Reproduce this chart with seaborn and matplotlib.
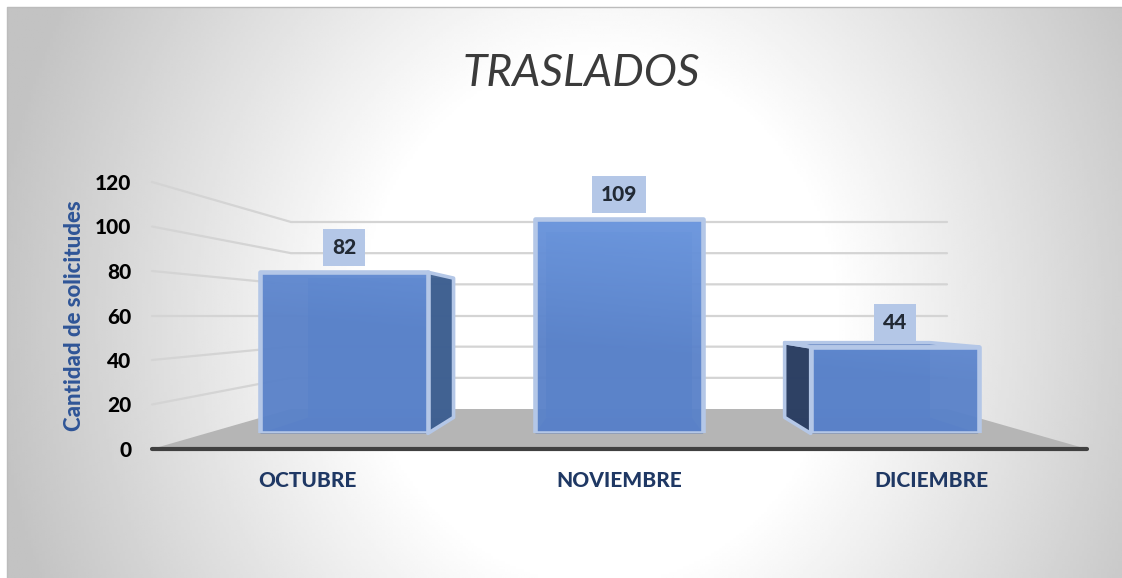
#!/usr/bin/env python3
import numpy as np
import matplotlib
matplotlib.use('Agg')
import matplotlib.pyplot as plt
import seaborn as sns
from matplotlib.colors import LinearSegmentedColormap, to_rgba
from matplotlib.patches import Polygon, Rectangle

meses = ['OCTUBRE', 'NOVIEMBRE', 'DICIEMBRE']
solicitudes = [82, 109, 44]
ticks_y = [0, 20, 40, 60, 80, 100, 120]

W, H = 1122, 578
Y_MAX = 120
ANCHO = 0.61
T_FRENTE = 0.39    # profundidad de la cara frontal de las barras
T_FONDO = 0.79     # profundidad de la cara trasera

BORDE = '#b4c7e7'
AZUL = '#5a82c9'

sns.set_theme(style='white')
plt.rcParams['font.family'] = ['Lato', 'DejaVu Sans']


def lerp(a, b, t):
    return a + (b - a) * t


def proy(x, v, t):
    '''Pasa categoria, valor y profundidad a pixeles de la caja 3D.'''
    izq = lerp(152, 291, t)
    der = lerp(1087, 947, t)
    y0 = lerp(449, 409, t)
    y1 = lerp(182, 222, t)
    return izq + (x + 0.5) / 3 * (der - izq), y0 + (y1 - y0) * v / Y_MAX


def ejes_px(fig, x0, x1, y_arriba, y_abajo):
    return fig.add_axes([x0 / W, 1 - y_abajo / H, (x1 - x0) / W, (y_abajo - y_arriba) / H])


fig = plt.figure(figsize=(W / 100, H / 100), dpi=100, facecolor='white')

# fondo con degradado radial
fondo = fig.add_axes([0, 0, 1, 1], zorder=0)
fondo.axis('off')
xx, yy = np.meshgrid(np.linspace(7, W, 400), np.linspace(7, H, 220))
r = np.hypot((xx - 600) / 560, (yy - 320) / 620)
gris = np.clip(1 - 0.35 * (r - 0.42), 0.765, 1)
fondo.imshow(gris, cmap='gray', vmin=0, vmax=1, extent=(7, W, H, 7), aspect='auto', zorder=0)
fondo.plot([7, 7, W], [H, 7, 7], color='#bcbcbc', lw=1, zorder=1)
fondo.set_xlim(0, W)
fondo.set_ylim(H, 0)

# piso
fondo.add_patch(Polygon([proy(-0.5, 0, 0), proy(-0.5, 0, 1), proy(2.5, 0, 1), proy(2.5, 0, 0)],
                        fc='#b5b5b5', ec='none', zorder=2))

# lineas de division en pared izquierda y pared trasera
for v in ticks_y[1:]:
    pts = [proy(-0.5, v, 0), proy(-0.5, v, 1), proy(2.5, v, 1)]
    fondo.plot(*zip(*pts), color='#d4d4d4', lw=1.6, zorder=3, solid_joinstyle='round')

# caras interiores de cada barra
for i, v in enumerate(solicitudes):
    a, b = i - ANCHO / 2, i + ANCHO / 2
    caras = [
        ([(a, v, T_FONDO), (b, v, T_FONDO), (b, 0, T_FONDO), (a, 0, T_FONDO)], '#5a85cf', 0.8, 0),
        ([(a, 0, T_FRENTE), (b, 0, T_FRENTE), (b, 0, T_FONDO), (a, 0, T_FONDO)], '#4c76c0', 0.85, 0),
    ]
    if i == 0:
        caras.append(([(b, v, T_FRENTE), (b, v, T_FONDO), (b, 0, T_FONDO), (b, 0, T_FRENTE)], '#3e5f8f', 0.95, 2.6))
    if i == 2:
        caras.append(([(a, v, T_FRENTE), (a, v, T_FONDO), (a, 0, T_FONDO), (a, 0, T_FRENTE)], '#2a3c5e', 0.95, 2.6))
        caras.append(([(a, v, T_FRENTE), (a, v, T_FONDO), (b, v, T_FONDO), (b, v, T_FRENTE)], '#4a6fb5', 0.9, 2.6))
    for puntos, color, alfa, grosor in caras:
        fondo.add_patch(Polygon([proy(*p) for p in puntos], fc=to_rgba(color, alfa), ec=BORDE,
                                lw=grosor, joinstyle='round', zorder=4))

# barras frontales
xi, y_ab = proy(-0.5, 0, T_FRENTE)
xd, y_ar = proy(2.5, Y_MAX, T_FRENTE)
ax_barras = ejes_px(fig, xi, xd, y_ar, y_ab)
ax_barras.set_zorder(2)
ax_barras.patch.set_alpha(0)
sns.barplot(x=meses, y=solicitudes, ax=ax_barras, width=ANCHO, color=AZUL,
            saturation=1, edgecolor='none', linewidth=0)
ax_barras.axis('off')

brillo = LinearSegmentedColormap.from_list('brillo', [(0.50, 0.68, 0.96, 0.0), (0.50, 0.68, 0.96, 0.9)])
gx, gy = np.meshgrid(np.linspace(0, 1, 120), np.linspace(1, 0, 120))
for barra in list(ax_barras.patches):
    barra.set_facecolor(to_rgba(AZUL, 0.96))
    img = ax_barras.imshow(np.clip(gy * 0.9 + gx * 0.3 - 0.45, 0, 1), cmap=brillo, vmin=0, vmax=1,
                           extent=(-0.5, 2.5, 0, Y_MAX), aspect='auto', zorder=barra.get_zorder() + 0.1)
    img.set_clip_path(barra)
    # contorno claro por encima del brillo
    ax_barras.add_patch(Rectangle(barra.get_xy(), barra.get_width(), barra.get_height(), fc='none',
                                  ec=BORDE, lw=3.3, joinstyle='round', zorder=barra.get_zorder() + 0.2))
ax_barras.set_xlim(-0.5, 2.5)
ax_barras.set_ylim(0, Y_MAX)

ax_barras.bar_label(ax_barras.containers[0], padding=10.8, fontsize=15, fontweight='black',
                    color='#222a35', zorder=8,
                    bbox=dict(boxstyle='square,pad=0.43', fc=BORDE, ec='none'))

# ejes del plano frontal (rotulos y linea base)
ax = ejes_px(fig, 152, 1087, 182, 449)
ax.set_zorder(3)
ax.patch.set_alpha(0)
ax.set_xlim(-0.5, 2.5)
ax.set_ylim(0, Y_MAX)
ax.set_xticks(range(len(meses)), meses, fontsize=15, fontweight='black', color='#1f3864')
ax.set_yticks(ticks_y, [str(t) for t in ticks_y], fontsize=15, fontweight='black', color='black')
ax.tick_params(axis='x', length=0, pad=16)
ax.tick_params(axis='y', length=0, pad=15)
sns.despine(ax=ax, left=True)
ax.spines['bottom'].set_color('#404040')
ax.spines['bottom'].set_linewidth(3)
ax.spines['bottom'].set_capstyle('round')
ax.set_ylabel('Cantidad de solicitudes', fontsize=16, fontweight='black', color='#2f5597')
ax.yaxis.set_label_coords((85 - 152) / 935, (449 - 316) / 267)

fig.text(581 / W, 1 - 74 / H, 'TRASLADOS', fontsize=32, fontweight='normal', fontstyle='italic',
         color='#3b3b3b', ha='center', va='center', zorder=10)

fig.savefig('out.png', dpi=100)
